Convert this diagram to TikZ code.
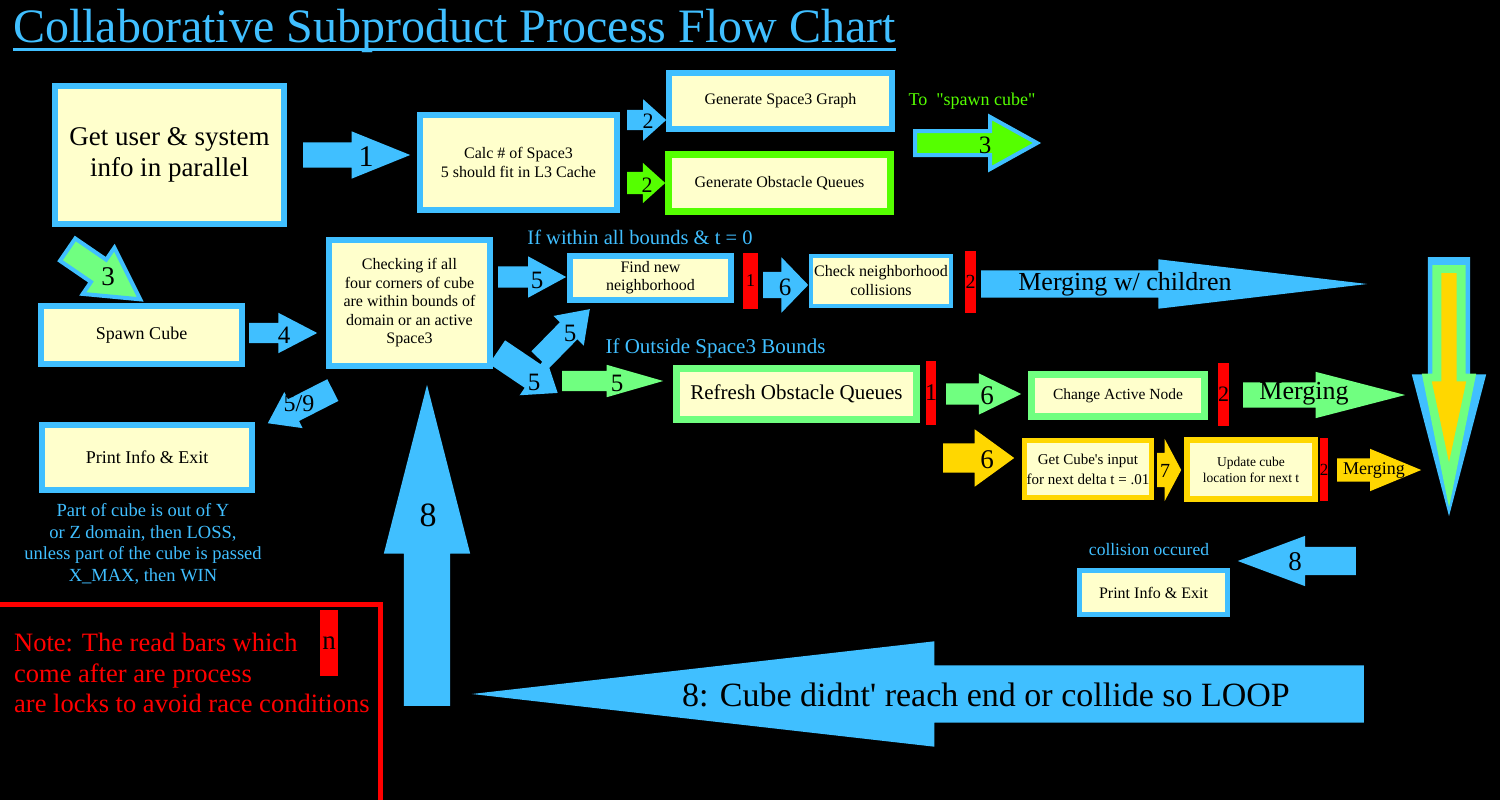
\documentclass[tikz,border=0pt]{standalone}
\usepackage{fontspec}
\setmainfont{Liberation Serif}[Ligatures=TeXOff]
\usepackage{tikz}
\usetikzlibrary{shapes.arrows}
\definecolor{skyblue}{RGB}{64,191,255}
\definecolor{cream}{RGB}{255,255,204}
\definecolor{lime}{RGB}{85,255,0}
\definecolor{mint}{RGB}{112,255,128}
\definecolor{gold}{RGB}{255,215,0}
\tikzset{
  box/.style={draw=skyblue, line width=6pt, fill=cream, align=center, inner sep=0pt},
  bar/.style={fill=red, inner sep=0pt},
  barr/.style n args={4}{single arrow, inner xsep=0pt, inner ysep=#3/2, anchor=tail,
    fill=skyblue, minimum height=#1, single arrow head extend=(#2-#3)/2,
    single arrow tip angle=#4},
  num/.style={inner sep=0pt, font=\fontsize{#1}{#1}\selectfont},
}
\begin{document}
\begin{tikzpicture}[x=1pt, y=-1pt]
  \fill[black] (0,0) rectangle (1500,800);
  \useasboundingbox (0,0) rectangle (1500,800);
  % Title
  \node[anchor=base west, inner sep=0pt, text=skyblue, font=\fontsize{48}{48}\selectfont] (title) at (13,43) {Collaborative Subproduct Process Flow Chart};
  \draw[skyblue, line width=2.5pt] ([yshift=-6.5pt]title.base west) -- ([yshift=-6.5pt]title.base east);
  % Boxes
  \node[box, minimum width=229, minimum height=138, font=\fontsize{27}{31}\selectfont] (info) at (169.5,155) {Get user \& system\\info in parallel};
  \node[box, minimum width=197, minimum height=95, font=\fontsize{16}{18.5}\selectfont] (calc) at (518.5,162.5) {Calc \# of Space3\\5 should fit in L3 Cache};
  \node[box, minimum width=223, minimum height=56, font=\fontsize{16}{18.5}\selectfont] (graph) at (780.5,101) {Generate Space3 Graph};
  \node[box, draw=lime, line width=7pt, minimum width=222, minimum height=57, font=\fontsize{16}{18.5}\selectfont] (queues) at (779.5,183) {Generate Obstacle Queues};
  \node[box, minimum width=201, minimum height=58, font=\fontsize{18}{21}\selectfont] (spawn) at (141.5,335) {Spawn Cube};
  \node[box, minimum width=161, minimum height=126, font=\fontsize{16}{18.5}\selectfont] (check) at (409.5,303) {Checking if all\\four corners of cube\\are within bounds of\\domain or an active\\Space3};
  \node[box, minimum width=161, minimum height=44, font=\fontsize{16}{18}\selectfont] (find) at (650.5,278) {Find new\\neighborhood};
  \node[box, line width=4pt, minimum width=140, minimum height=50, font=\fontsize{16}{19}\selectfont] (collide) at (881,281) {Check neighborhood\\collisions};
  \node[box, draw=mint, line width=7pt, minimum width=240, minimum height=51, font=\fontsize{21}{21}\selectfont] (refresh) at (796.5,394) {Refresh Obstacle Queues};
  \node[box, draw=mint, line width=7pt, minimum width=173, minimum height=42, font=\fontsize{15.5}{15.5}\selectfont] (active) at (1118,395.5) {Change Active Node};
  \node[box, draw=gold, line width=5pt, minimum width=127, minimum height=57, font=\fontsize{15}{20}\selectfont] (input) at (1088,469) {Get Cube's input\\for next delta t = .01};
  \node[box, draw=gold, line width=6pt, minimum width=128, minimum height=59, font=\fontsize{13.5}{16}\selectfont] (update) at (1251,469.5) {Update cube\\location for next t};
  \node[box, minimum width=210, minimum height=65, font=\fontsize{18}{18}\selectfont] (exitL) at (147,457.5) {Print Info \& Exit};
  \node[box, line width=5pt, minimum width=148, minimum height=44, font=\fontsize{16}{16}\selectfont] (exitR) at (1153.5,592.5) {Print Info \& Exit};
  % Locks
  \node[bar, minimum width=15, minimum height=56, num=18] (lock1) at (750.5,281) {\makebox[0pt]{1}};
  \node[bar, minimum width=11, minimum height=62, num=20] (lock2) at (970.5,282) {\makebox[0pt]{2}};
  \node[bar, minimum width=10, minimum height=64, num=24] (lock3) at (931,393) {\makebox[0pt]{1}};
  \node[bar, minimum width=11, minimum height=63, num=22] (lock4) at (1223.5,394.5) {\makebox[0pt]{2}};
  \node[bar, minimum width=8, minimum height=63, num=17] (lock5) at (1324,469.5) {\makebox[0pt]{2}};
  \node[bar, minimum width=18, minimum height=66, num=27] (lockn) at (329,643) {\makebox[0pt]{n}};
  % Arrows
  \node[barr={107}{47}{25}{44}] (a1) at (303,155) {};
  \node[num=30] (n1) at (366,157) {1};
  \node[barr={39}{41}{20}{84}] (a2) at (627,120) {};
  \node[num=22] (n2) at (648,121) {2};
  \node[barr={38}{40}{22}{84}, fill=lime] (a2g) at (627,183) {};
  \node[num=22] (n2g) at (647,185) {2};
  \node[barr={122}{48}{20}{58}, fill=lime, draw=skyblue, line width=4pt] (a3) at (913,143) {};
  \node[num=25] (n3) at (985,145) {3};
  \node[barr={88}{52}{23}{58}, fill=mint, draw=skyblue, line width=4pt, rotate=-34.4] (a3s) at (66,248.5) {};
  \node[num=27] (n3s) at (108,277) {3};
  \node[barr={68}{40}{20}{55}] (a4) at (249,333) {};
  \node[num=25] (n4) at (284,335) {4};
  \node[barr={68}{41}{21}{57}] (a5) at (498,277) {};
  \node[num=25] (n5) at (537,280) {5};
  \node[barr={71}{42}{24}{70}, rotate=45.6] (a5u) at (540,360) {};
  \node[num=25] (n5u) at (570,333) {5};
  \node[barr={73}{46}{28}{75}, rotate=-34] (a5d) at (497,352) {};
  \node[num=25] (n5d) at (534,382) {5};
  \node[barr={101}{32}{20}{32}, fill=mint] (a5g) at (562,381) {};
  \node[num=25] (n5g) at (617,383) {5};
  \node[barr={73}{40}{24}{70}, rotate=207] (a59) at (333,390) {};
  \node[num=24] (n59) at (299,404) {5/9};
  \node[barr={45}{55}{26}{92}] (a6) at (763,285) {};
  \node[num=25] (n6) at (785,287) {6};
  \node[barr={386}{49}{27}{13.5}] (m1) at (981,284) {};
  \node[num=26] (t1) at (1125,284) {Merging w/ children};
  \node[barr={75}{41}{21}{52}, fill=mint] (a6g) at (946,394) {};
  \node[num=27] (n6g) at (987,396) {6};
  \node[barr={162}{46}{25}{29}, fill=mint] (m2) at (1243,395) {};
  \node[num=26] (t2) at (1304,394) {Merging};
  \node[barr={71}{57}{29}{72}, fill=gold] (a6y) at (943,458) {};
  \node[num=27] (n6y) at (987,460) {6};
  \node[barr={24}{62}{34}{124}, fill=gold] (a7) at (1157,470) {};
  \node[num=20] (n7) at (1165,471) {7};
  \node[barr={84}{42}{23}{45}, fill=gold] (m3) at (1337,470) {};
  \node[num=18] (t3) at (1374,470) {Merging};
  % Merge down
  \node[barr={259}{74}{42}{29.4}, rotate=-90] (down) at (1449,257) {};
  \node[barr={242}{54}{33}{23}, fill=mint, rotate=-90] (downg) at (1449,265) {};
  \node[barr={189}{34}{15}{24}, fill=gold, rotate=-90] (downy) at (1449,273) {};
  % Loop
  \node[barr={118}{50}{28}{41}, rotate=180] (a8) at (1356,561) {};
  \node[num=27] (n8) at (1295,562) {8};
  \node[barr={892}{105}{57}{13}, rotate=180] (loop) at (1364,694) {};
  \node[num=34] (t8) at (986,695) {8: Cube didnt' reach end or collide so LOOP};
  \node[barr={321}{86}{46}{28.7}, rotate=90] (up) at (427,706) {};
  \node[num=34] (n8u) at (428,515) {8};
  % Notes
  \node[inner sep=0pt, text=skyblue, font=\fontsize{20.5}{20.5}\selectfont] (within) at (640,237) {If within all bounds \& t = 0};
  \node[inner sep=0pt, text=skyblue, font=\fontsize{21}{21}\selectfont] (outside) at (715.5,348) {If Outside Space3 Bounds};
  \node[inner sep=0pt, text=lime, font=\fontsize{18}{18}\selectfont] (tospawn) at (972,101) {To~~"spawn cube"};
  \node[inner sep=0pt, text=skyblue, font=\fontsize{17.5}{17.5}\selectfont] (collnote) at (1149,550) {collision occured};
  \node[inner sep=0pt, text=skyblue, align=center, font=\fontsize{18.5}{21.7}\selectfont] (lossnote) at (143,544) {Part of cube is out of Y\\or Z domain, then LOSS,\\unless part of the cube is passed\\X\_MAX, then WIN};
  \draw[red, line width=5pt] (-5,604.5) -- (380.5,604.5) -- (380.5,805);
  \node[inner sep=0pt, anchor=west, text=red, align=left, font=\fontsize{26.5}{30.5}\selectfont] (locknote) at (14,673) {Note: The read bars which\\come after are process\\are locks to avoid race conditions};
\end{tikzpicture}
\end{document}
